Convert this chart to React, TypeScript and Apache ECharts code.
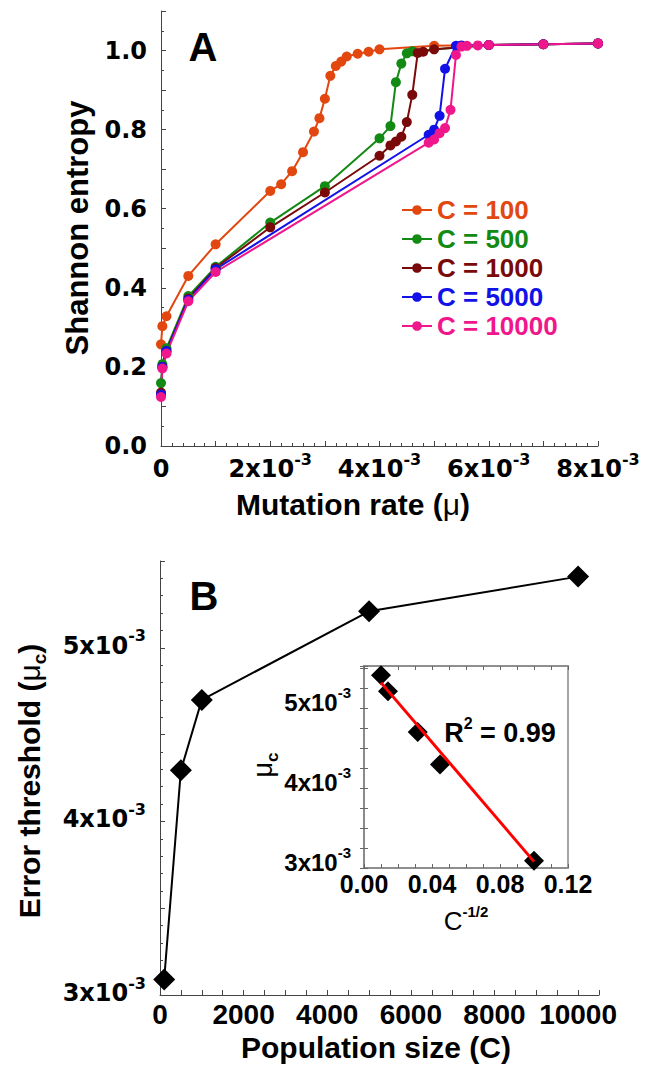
import React, { useEffect, useRef } from 'react';
import * as echarts from 'echarts';

const FONT = '"Liberation Sans", Arial, Helvetica, sans-serif';
const WIDE = '"DejaVu Sans", Verdana, sans-serif';

// ---------- Panel A data ----------
const seriesNames = ['C = 100', 'C = 500', 'C = 1000', 'C = 5000', 'C = 10000'];
const seriesColors = ['#E2470F', '#138A13', '#7A0A0A', '#1212E8', '#F0168C'];

const mu100 = [0, 0.000025, 0.0001, 0.0005, 0.001, 0.002, 0.0022, 0.0024, 0.0026, 0.0028, 0.0029, 0.003, 0.0031, 0.0032, 0.0033, 0.0034, 0.0036, 0.0038, 0.004, 0.005, 0.006, 0.007, 0.008];
const h100 = [0.257, 0.303, 0.328, 0.43, 0.51, 0.645, 0.662, 0.695, 0.743, 0.795, 0.829, 0.878, 0.936, 0.961, 0.972, 0.985, 0.992, 0.997, 1.003, 1.012, 1.014, 1.016, 1.018];

const mu500 = [0, 0.000025, 0.0001, 0.0005, 0.001, 0.002, 0.003, 0.004, 0.0042, 0.0043, 0.0044, 0.0045, 0.0046, 0.006, 0.007, 0.008];
const h500 = [0.159, 0.207, 0.247, 0.379, 0.453, 0.565, 0.657, 0.778, 0.809, 0.92, 0.967, 0.993, 0.998, 1.014, 1.016, 1.018];

const mu1000 = [0, 0.000025, 0.0001, 0.0005, 0.001, 0.002, 0.003, 0.004, 0.0042, 0.0043, 0.0044, 0.0045, 0.0046, 0.0047, 0.0048, 0.005, 0.006, 0.007, 0.008];
const h1000 = [0.135, 0.2, 0.24, 0.373, 0.45, 0.553, 0.641, 0.734, 0.76, 0.77, 0.782, 0.819, 0.888, 0.994, 0.997, 1.003, 1.014, 1.016, 1.018];

const mu5000 = [0, 0.000025, 0.0001, 0.0005, 0.001, 0.0049, 0.005, 0.0051, 0.0052, 0.0054, 0.0055, 0.006, 0.007, 0.008];
const h5000 = [0.13, 0.2, 0.24, 0.37, 0.447, 0.787, 0.8, 0.835, 0.954, 1.012, 1.013, 1.014, 1.016, 1.018];

const mu10000 = [0, 0.000025, 0.0001, 0.0005, 0.001, 0.0049, 0.005, 0.0051, 0.0052, 0.0053, 0.0054, 0.0055, 0.0056, 0.0058, 0.006, 0.007, 0.008];
const h10000 = [0.124, 0.196, 0.234, 0.366, 0.44, 0.767, 0.775, 0.791, 0.804, 0.85, 0.989, 1.01, 1.012, 1.013, 1.014, 1.016, 1.018];

const muLists = [mu100, mu500, mu1000, mu5000, mu10000];
const hLists = [h100, h500, h1000, h5000, h10000];

// ---------- Panel B data ----------
const popSize = [100, 500, 1000, 5000, 10000];
const muCrit = [0.00309, 0.004295, 0.0047, 0.00521, 0.00541];
const invSqrtC = [0.1, 0.0447, 0.0316, 0.0141, 0.01];
const fitX = [0.01, 0.1];
const fitY = [0.005317, 0.00308];

// tick label values
const entropyLabels = [0, 0.2, 0.4, 0.6, 0.8, 1.0];
const muLabelsA = [0, 2, 4, 6, 8]; // x10^-3
const popLabels = [0, 2000, 4000, 6000, 8000, 10000];
const muCLabels = [3, 4, 5]; // x10^-3
const insetXLabels = [0, 0.04, 0.08, 0.12];

const near = (v: number, arr: number[], tol: number) => arr.find((a) => Math.abs(a - v) < tol);

const rich = (family: string, size: number, supSize: number, lh: number) => ({
  b: { fontSize: size, fontWeight: 'bold', fontFamily: family, color: '#000', lineHeight: lh, verticalAlign: 'middle' },
  s: { fontSize: supSize, fontWeight: 'bold', fontFamily: family, color: '#000', lineHeight: supSize, verticalAlign: 'top' },
});

const sciLabel = (n: number) => (n === 0 ? '{b|0}' : `{b|${n}x10}{s|-3}`);

const axisLineStyle = { color: '#444', width: 1 };

export default function App() {
  const ref = useRef<HTMLDivElement>(null);
  useEffect(() => {
    if (!ref.current) return;
    const chart = echarts.init(ref.current, undefined, { renderer: 'svg' });

    const lineSeries = seriesNames.map((name, i) => ({
      name,
      type: 'line',
      xAxisIndex: 0,
      yAxisIndex: 0,
      data: muLists[i].map((m, j) => [m, hLists[i][j]]),
      symbol: 'circle',
      symbolSize: 10,
      color: seriesColors[i],
      itemStyle: { color: seriesColors[i] },
      lineStyle: { color: seriesColors[i], width: 2 },
    }));

    const option: any = {
      animation: false,
      backgroundColor: '#fff',
      grid: [
        { left: 161, top: 11, width: 437, height: 435 },
        { left: 160, top: 561, width: 439, height: 434 },
        { left: 364, top: 666, width: 204, height: 202, show: true, borderColor: '#888', borderWidth: 1.5, backgroundColor: 'transparent' },
      ],
      xAxis: [
        {
          gridIndex: 0, type: 'value', min: 0, max: 0.008, interval: 0.001,
          axisLine: { lineStyle: axisLineStyle },
          axisTick: { inside: true, length: 5, lineStyle: axisLineStyle },
          minorTick: { show: true, splitNumber: 5, length: 3, lineStyle: axisLineStyle },
          splitLine: { show: false },
          axisLabel: {
            margin: 5,
            formatter: (v: number) => {
              const k = Math.round(v * 1000);
              return muLabelsA.includes(k) && Math.abs(v * 1000 - k) < 1e-6 ? sciLabel(k) : '';
            },
            rich: rich(WIDE, 24, 16, 36),
          },
        },
        {
          gridIndex: 1, type: 'value', min: 0, max: 10500, interval: 500,
          axisLine: { lineStyle: axisLineStyle },
          axisTick: { inside: true, length: 5, lineStyle: axisLineStyle },
          splitLine: { show: false },
          axisLabel: {
            margin: 4,
            formatter: (v: number) => (near(v, popLabels, 1) !== undefined ? `{b|${v}}` : ''),
            rich: rich(FONT, 28, 17, 30),
          },
        },
        {
          gridIndex: 2, type: 'value', min: 0, max: 0.12, interval: 0.01,
          axisLine: { lineStyle: { color: '#888', width: 1.5 } },
          axisTick: { inside: true, length: 4, lineStyle: { color: '#666' } },
          splitLine: { show: false },
          axisLabel: {
            margin: 2,
            formatter: (v: number) => (near(v, insetXLabels, 1e-6) !== undefined ? `{b|${v.toFixed(2)}}` : ''),
            rich: rich(FONT, 25, 16, 27),
          },
        },
        {
          gridIndex: 2, type: 'value', position: 'top', min: 0, max: 0.12, interval: 0.01,
          axisLine: { lineStyle: { color: '#888', width: 1.5 } },
          axisTick: { inside: true, length: 4, lineStyle: { color: '#666' } },
          splitLine: { show: false },
          axisLabel: { show: false },
        },
      ],
      yAxis: [
        {
          gridIndex: 0, type: 'value', min: 0, max: 1.1, interval: 0.1,
          axisLine: { show: true, lineStyle: axisLineStyle },
          axisTick: { show: true, inside: true, length: 5, lineStyle: axisLineStyle },
          minorTick: { show: true, splitNumber: 2, length: 3, lineStyle: axisLineStyle },
          splitLine: { show: false },
          axisLabel: {
            margin: 14,
            formatter: (v: number) => {
              const m = near(v, entropyLabels, 1e-6);
              return m !== undefined ? `{b|${m.toFixed(1)}}` : '';
            },
            rich: rich(WIDE, 24, 16, 28),
          },
        },
        {
          gridIndex: 1, type: 'value', min: 0.003, max: 0.0055, interval: 0.0005,
          axisLine: { show: true, lineStyle: axisLineStyle },
          axisTick: { show: true, inside: true, length: 5, lineStyle: axisLineStyle },
          minorTick: { show: true, splitNumber: 5, length: 3, lineStyle: axisLineStyle },
          splitLine: { show: false },
          axisLabel: {
            margin: 14,
            padding: [0, 0, 4, 0],
            formatter: (v: number) => {
              const m = near(v * 1000, muCLabels, 1e-6);
              return m !== undefined ? sciLabel(m) : '';
            },
            rich: rich(WIDE, 24, 16, 36),
          },
        },
        {
          gridIndex: 2, type: 'value', min: 0.003, max: 0.005525, interval: 0.00025,
          axisLine: { show: true, lineStyle: { color: '#888', width: 1.5 } },
          axisTick: { show: true, inside: true, length: 4, lineStyle: { color: '#666' } },
          splitLine: { show: false },
          axisLabel: {
            margin: 13,
            padding: [0, 0, 12, 0],
            formatter: (v: number) => {
              const m = near(v * 1000, muCLabels, 1e-6);
              return m !== undefined ? sciLabel(m) : '';
            },
            rich: rich(FONT, 24, 15, 34),
          },
        },
        {
          gridIndex: 2, type: 'value', position: 'right', min: 0.003, max: 0.005525, interval: 0.00025,
          axisLine: { show: true, lineStyle: { color: '#888', width: 1.5 } },
          axisTick: { show: true, inside: true, length: 4, lineStyle: { color: '#666' } },
          splitLine: { show: false },
          axisLabel: { show: false },
        },
      ],
      legend: {
        orient: 'vertical',
        left: 401,
        top: 197,
        padding: 0,
        itemWidth: 30,
        itemHeight: 12,
        itemGap: 3,
        selectedMode: false,
        textStyle: { fontSize: 26, fontWeight: 'bold', fontFamily: FONT, lineHeight: 26 },
        data: seriesNames.map((n, i) => ({ name: n, textStyle: { color: seriesColors[i] } })),
      },
      series: [
        ...lineSeries,
        {
          name: 'threshold',
          type: 'line',
          xAxisIndex: 1,
          yAxisIndex: 1,
          data: popSize.map((c, i) => [c, muCrit[i]]),
          symbol: 'diamond',
          symbolSize: 22,
          itemStyle: { color: '#000', opacity: 1 },
          lineStyle: { color: '#000', width: 2 },
        },
        {
          name: 'fit',
          type: 'line',
          xAxisIndex: 2,
          yAxisIndex: 2,
          data: fitX.map((x, i) => [x, fitY[i]]),
          symbol: 'none',
          lineStyle: { color: '#FF0000', width: 3 },
        },
        {
          name: 'inset',
          type: 'scatter',
          xAxisIndex: 2,
          yAxisIndex: 2,
          data: invSqrtC.map((x, i) => [x, muCrit[i]]),
          symbol: 'diamond',
          symbolSize: 20,
          itemStyle: { color: '#000', opacity: 1 },
        },
      ],
      graphic: [
        { type: 'text', x: 203, y: 47, style: { text: 'A', fontSize: 40, fontWeight: 'bold', fontFamily: FONT, fill: '#000', align: 'center', verticalAlign: 'middle' } },
        { type: 'text', x: 204, y: 596, style: { text: 'B', fontSize: 40, fontWeight: 'bold', fontFamily: FONT, fill: '#000', align: 'center', verticalAlign: 'middle' } },
        { type: 'text', x: 77, y: 228, rotation: Math.PI / 2, style: { text: 'Shannon entropy', fontSize: 31, fontWeight: 'bold', fontFamily: FONT, fill: '#000', align: 'center', verticalAlign: 'middle' } },
        {
          type: 'text', x: 353, y: 504,
          style: {
            text: '{a|Mutation rate (}{m|μ}{a|)}', align: 'center', verticalAlign: 'middle',
            rich: {
              a: { fontSize: 30, fontWeight: 'bold', fontFamily: FONT, color: '#000' },
              m: { fontSize: 30, fontWeight: 'normal', fontFamily: FONT, color: '#000' },
            },
          },
        },
        {
          type: 'text', x: 29, y: 781, rotation: Math.PI / 2,
          style: {
            text: '{a|Error threshold (}{m|μ}{c|c}{a|)}', align: 'center', verticalAlign: 'middle',
            rich: {
              a: { fontSize: 30, fontWeight: 'bold', fontFamily: FONT, color: '#000', lineHeight: 40, verticalAlign: 'middle' },
              m: { fontSize: 30, fontWeight: 'normal', fontFamily: FONT, color: '#000', lineHeight: 40, verticalAlign: 'middle' },
              c: { fontSize: 19, fontWeight: 'bold', fontFamily: FONT, color: '#000', lineHeight: 20, verticalAlign: 'bottom' },
            },
          },
        },
        { type: 'text', x: 376, y: 1047, style: { text: 'Population size (C)', fontSize: 30, fontWeight: 'bold', fontFamily: FONT, fill: '#000', align: 'center', verticalAlign: 'middle' } },
        {
          type: 'text', x: 500, y: 733,
          style: {
            text: '{a|R}{s|2}{a| = 0.99}', align: 'center', verticalAlign: 'middle',
            rich: {
              a: { fontSize: 27, fontWeight: 'bold', fontFamily: FONT, color: '#000', lineHeight: 36, verticalAlign: 'middle' },
              s: { fontSize: 16, fontWeight: 'bold', fontFamily: FONT, color: '#000', lineHeight: 16, verticalAlign: 'top' },
            },
          },
        },
        {
          type: 'text', x: 466, y: 921,
          style: {
            text: '{a|C}{s|-1/2}', align: 'center', verticalAlign: 'middle',
            rich: {
              a: { fontSize: 26, fontWeight: 'normal', fontFamily: FONT, color: '#000', lineHeight: 34, verticalAlign: 'middle' },
              s: { fontSize: 15, fontWeight: 'bold', fontFamily: FONT, color: '#000', lineHeight: 15, verticalAlign: 'top' },
            },
          },
        },
        {
          type: 'text', x: 263, y: 765, rotation: Math.PI / 2,
          style: {
            text: '{m|μ}{c|c}', align: 'center', verticalAlign: 'middle',
            rich: {
              m: { fontSize: 27, fontWeight: 'normal', fontFamily: FONT, color: '#000', lineHeight: 36, verticalAlign: 'middle' },
              c: { fontSize: 17, fontWeight: 'bold', fontFamily: FONT, color: '#000', lineHeight: 18, verticalAlign: 'bottom' },
            },
          },
        },
      ],
    };

    chart.setOption(option);
    return () => chart.dispose();
  }, []);

  return <div ref={ref} style={{ position: 'absolute', left: 0, top: 0, width: 645, height: 1073 }} />;
}
